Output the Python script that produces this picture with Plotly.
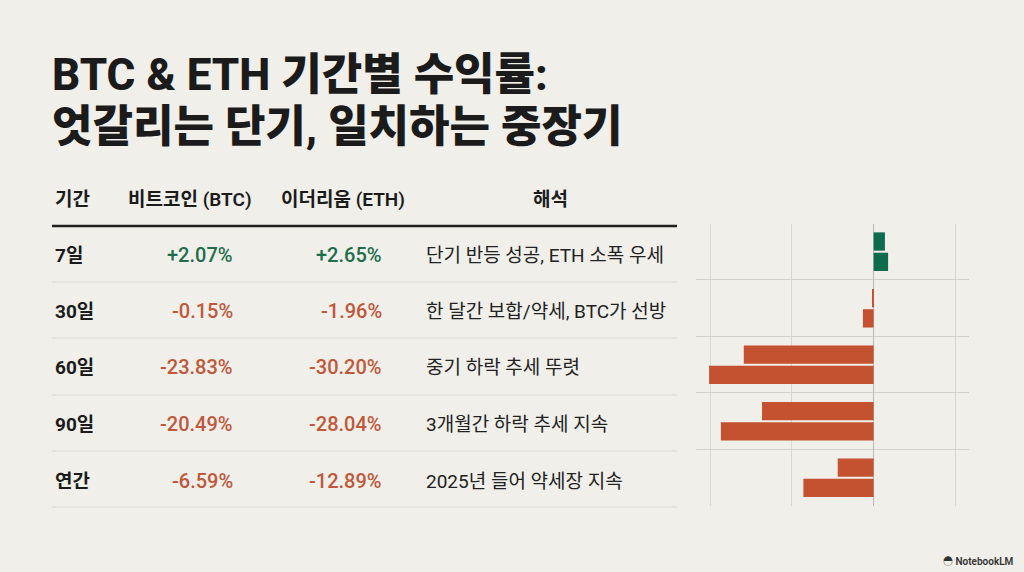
import plotly.graph_objects as go

# ---- data ----
periods = ["7일", "30일", "60일", "90일", "연간"]
btc_returns = [2.07, -0.15, -23.83, -20.49, -6.59]
eth_returns = [2.65, -1.96, -30.20, -28.04, -12.89]
notes = [
    "단기 반등 성공, ETH 소폭 우세",
    "한 달간 보합/약세, BTC가 선방",
    "중기 하락 추세 뚜렷",
    "3개월간 하락 추세 지속",
    "2025년 들어 약세장 지속",
]
headers = ["기간", "비트코인 (BTC)", "이더리움 (ETH)", "해석"]
title_lines = ["BTC & ETH 기간별 수익률:", "엇갈리는 단기, 일치하는 중장기"]

# ---- style ----
W, H = 1024, 572
BG = "#f0efea"
GREEN = "#0f6b4e"
RED = "#c4512f"
GREEN_TXT = "#1f6d4c"
RED_TXT = "#c0583b"
DARK = "#1b1b1b"
FONT = "Roboto, Noto Sans CJK KR"


def px(x):
    return x / W


def py(y):
    return 1 - y / H


def bar_colors(vals):
    return [GREEN if v >= 0 else RED for v in vals]


fig = go.Figure()
fig.add_trace(go.Bar(
    y=periods, x=btc_returns, orientation="h", name="BTC",
    marker=dict(color=bar_colors(btc_returns), line=dict(width=0)),
    hoverinfo="skip",
))
fig.add_trace(go.Bar(
    y=periods, x=eth_returns, orientation="h", name="ETH",
    marker=dict(color=bar_colors(eth_returns), line=dict(width=0)),
    hoverinfo="skip",
))

annotations = []
# title
for i, line in enumerate(title_lines):
    annotations.append(dict(
        text=line, x=px(50), y=py(75 + 52 * i), xref="paper", yref="paper",
        xanchor="left", yanchor="middle", showarrow=False,
        font=dict(family=FONT, size=44, color=DARK, weight=800),
    ))

# header
header_pos = [(53, "left"), (190, "center"), (343, "center"), (550, "center")]
for h, (x, anc) in zip(headers, header_pos):
    annotations.append(dict(
        text=h, x=px(x), y=py(200), xref="paper", yref="paper",
        xanchor=anc, yanchor="middle", showarrow=False,
        font=dict(family=FONT, size=19, color=DARK, weight=600),
    ))

row_y = [255, 311, 367, 424, 481]
for i, p in enumerate(periods):
    yy = py(row_y[i])
    annotations.append(dict(
        text=p, x=px(53), y=yy, xref="paper", yref="paper",
        xanchor="left", yanchor="middle", showarrow=False,
        font=dict(family=FONT, size=19, color=DARK, weight=700),
    ))
    for val, xr in ((btc_returns[i], 235), (eth_returns[i], 384)):
        annotations.append(dict(
            text=f"{val:+.2f}%", x=px(xr), y=yy, xref="paper", yref="paper",
            xanchor="right", yanchor="middle", showarrow=False,
            font=dict(family=FONT, size=20,
                      color=GREEN_TXT if val >= 0 else RED_TXT, weight=500),
        ))
    annotations.append(dict(
        text=notes[i], x=px(424), y=yy, xref="paper", yref="paper",
        xanchor="left", yanchor="middle", showarrow=False,
        font=dict(family=FONT, size=19, color="#222222", weight=400),
    ))

annotations.append(dict(
    text="◓ NotebookLM", x=px(1016), y=py(561), xref="paper", yref="paper",
    xanchor="right", yanchor="middle", showarrow=False,
    font=dict(family=FONT, size=10, color="#333333", weight=600),
))

shapes = [dict(type="line", xref="paper", yref="paper",
               x0=px(52), x1=px(677), y0=py(226), y1=py(226),
               line=dict(color="#1f1f1f", width=2.5))]
for y in [282, 338, 395, 451, 507]:
    shapes.append(dict(type="line", xref="paper", yref="paper",
                       x0=px(52), x1=px(677), y0=py(y), y1=py(y),
                       line=dict(color="#dcdbd5", width=1)))

fig.update_layout(
    width=W, height=H,
    paper_bgcolor=BG, plot_bgcolor=BG,
    margin=dict(l=0, r=0, t=0, b=0),
    showlegend=False,
    barmode="group", bargap=0.28, bargroupgap=0.1,
    annotations=annotations, shapes=shapes,
    xaxis=dict(
        domain=[px(696), px(969)], range=[-32.6, 17.5],
        tickmode="array", tickvals=[-30, -15, 0, 15],
        showticklabels=False, ticks="",
        showgrid=True, gridcolor="#d9d8d2", gridwidth=1,
        zeroline=True, zerolinecolor="#b9b9b4", zerolinewidth=1,
        fixedrange=True,
    ),
    yaxis=dict(
        domain=[py(506), py(224)], type="category",
        categoryorder="array", categoryarray=periods,
        range=[4.5, -0.49], tickson="boundaries",
        showticklabels=False, ticks="",
        showgrid=True, gridcolor="#d3d2cc", gridwidth=1,
        zeroline=False, fixedrange=True,
    ),
)

fig.write_html(
    "out.html",
    config={"displayModeBar": False},
    post_script="document.body.style.margin='0';document.body.style.background='#f0efea';",
)
